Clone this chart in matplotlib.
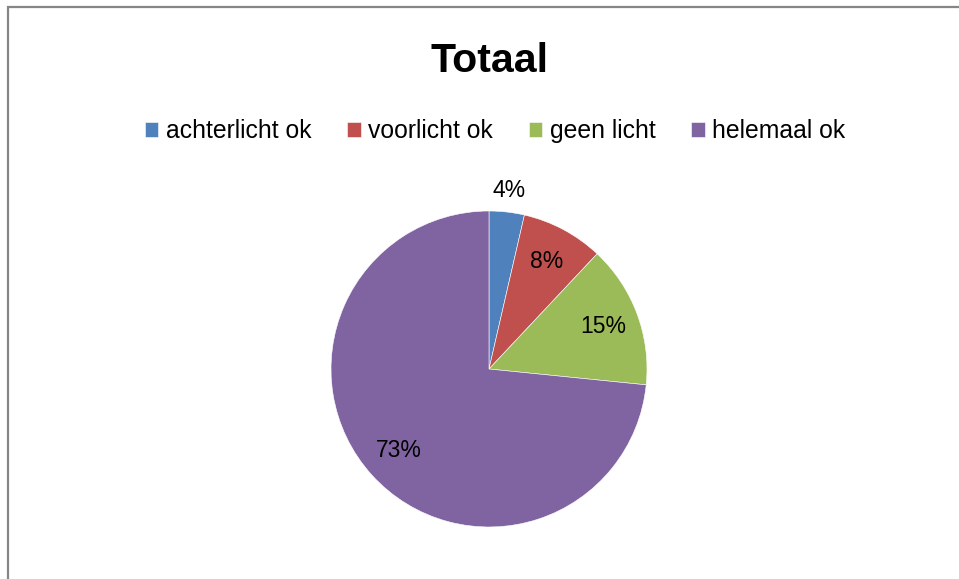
import matplotlib
matplotlib.use("Agg")
import numpy as np
import matplotlib.pyplot as plt
from matplotlib.patches import Rectangle

# Data
categories = ['achterlicht ok', 'voorlicht ok', 'geen licht', 'helemaal ok']
shares = [3.6, 8.4, 14.6, 73.4]
pct_labels = ['4%', '8%', '15%', '73%']
colors = ['#4F81BD', '#C0504D', '#9BBB59', '#8064A2']

plt.rcParams['font.family'] = ['Liberation Sans', 'DejaVu Sans']

W, H = 959, 579
fig = plt.figure(figsize=(W / 100, H / 100), dpi=100)

# chart border (runs off the right and bottom edge)
fig.patches.append(Rectangle((8 / W, -0.1), 1.2, 1 - 7 / H + 0.1,
                             transform=fig.transFigure, fill=False,
                             edgecolor='#868686', linewidth=1.6))

# pie axes: centre (489, 369) px, radius 158 px
cx, cy, r = 489, 369, 158
ax = fig.add_axes([(cx - r) / W, (H - cy - r) / H, 2 * r / W, 2 * r / H])
wedges, _ = ax.pie(shares, colors=colors, startangle=90, counterclock=False,
                   radius=1, wedgeprops=dict(linewidth=0.4, edgecolor='white'))
ax.set_xlim(-1, 1)
ax.set_ylim(-1, 1)
ax.set_aspect('equal')
ax.axis('off')

for i, (w, lab) in enumerate(zip(wedges, pct_labels)):
    mid = np.deg2rad((w.theta1 + w.theta2) / 2)
    d = 1.14 if i == 0 else 0.77
    ax.text(d * np.cos(mid), d * np.sin(mid), lab, ha='center', va='center',
            fontsize=16.5, color='black', clip_on=False)

fig.text(489 / W, 1 - 61 / H, 'Totaal', ha='center', va='center',
         fontsize=29.5, fontweight='bold')

fig.legend(wedges, categories, loc='center', bbox_to_anchor=(495 / W, 1 - 131 / H),
           ncol=4, frameon=False, fontsize=17.8, handlelength=0.55, handleheight=0.55,
           handletextpad=0.3, columnspacing=1.45, borderpad=0)

fig.savefig('out.png', dpi=100)
